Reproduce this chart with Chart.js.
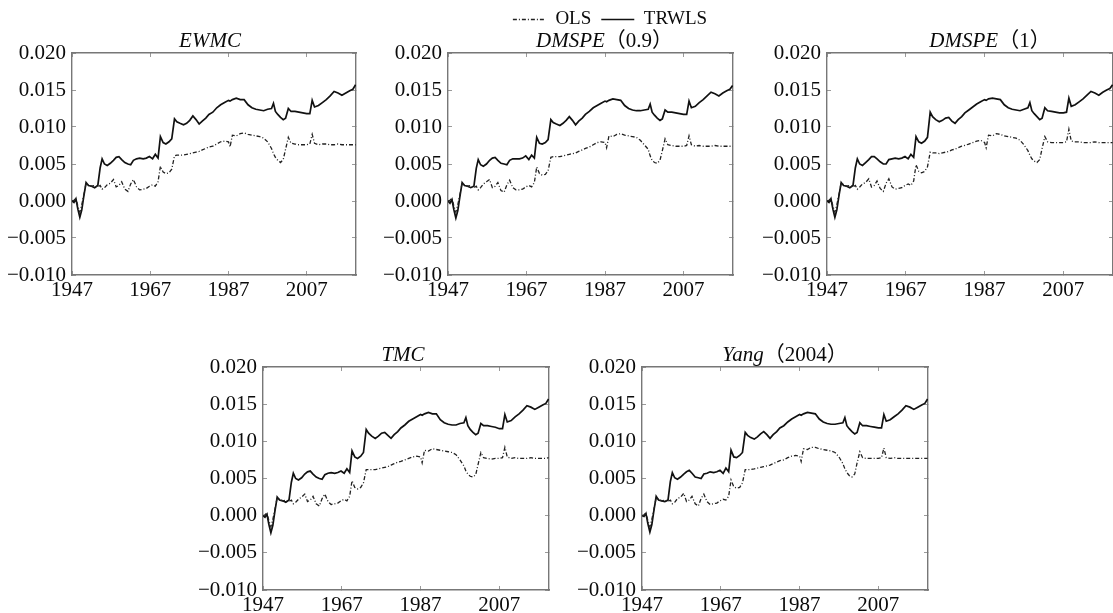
<!DOCTYPE html>
<html><head><meta charset="utf-8">
<script src="https://cdn.jsdelivr.net/npm/chart.js@4.4.1/dist/chart.umd.min.js"></script>
<style>
html,body{margin:0;padding:0;background:#fff;width:1113px;height:613px;overflow:hidden;position:relative}
canvas{position:absolute;display:block}
</style></head><body>
<canvas id="c1"></canvas><canvas id="c2"></canvas><canvas id="c3"></canvas><canvas id="c4"></canvas><canvas id="c5"></canvas>
<script>
// ---------------- data ----------------
const years = [
 1947.0,1947.5,1948.0,1948.5,1949.0,1949.5,1950.0,1950.6,1951.2,1952.0,
 1952.8,1953.6,1954.2,1954.7,1955.3,1956.0,1956.8,1957.6,1958.3,1959.0,
 1959.7,1960.5,1961.3,1962.0,1962.7,1963.5,1964.3,1965.2,1966.0,1966.8,
 1967.6,1968.3,1969.0,1969.6,1970.3,1971.0,1971.8,1972.5,1973.2,1973.8,
 1974.6,1975.5,1976.3,1977.1,1977.9,1978.7,1979.5,1980.3,1981.2,1982.0,
 1983.0,1984.0,1985.0,1986.0,1987.0,1987.4,1988.0,1989.0,1990.0,1991.0,
 1992.0,1993.0,1994.0,1995.0,1996.0,1997.0,1998.0,1998.5,1999.0,1999.6,
 2000.3,2001.0,2001.6,2002.3,2003.0,2004.0,2005.0,2006.0,2007.0,2007.8,
 2008.4,2009.0,2010.0,2011.0,2012.0,2013.0,2014.0,2015.0,2016.0,2017.0,
 2018.0,2018.8,2019.5];
const xTicks = [1947, 1967, 1987, 2007];
const xTickLabels = ['1947', '1967', '1987', '2007'];
const yTicks = [-0.010, -0.005, 0.000, 0.005, 0.010, 0.015, 0.020];
const yTickLabels = ['\u22120.010', '\u22120.005', '0.000', '0.005', '0.010', '0.015', '0.020'];
const seriesNames = ['OLS', 'TRWLS'];

const trwlsEWMC = [
 0.0000,-0.0002,0.0003,-0.0011,-0.0022,-0.0012,0.0006,0.0025,0.0021,0.0020,
 0.0018,0.0021,0.0045,0.0057,0.0050,0.0048,0.0051,0.0055,0.0059,0.0060,
 0.0056,0.0052,0.0050,0.0049,0.0055,0.0057,0.0058,0.0057,0.0058,0.0060,
 0.0057,0.0063,0.0058,0.0087,0.0079,0.0077,0.0080,0.0084,0.0111,0.0107,
 0.0105,0.0103,0.0105,0.0109,0.0115,0.0110,0.0104,0.0108,0.0112,0.0117,
 0.0120,0.0126,0.0130,0.0133,0.0136,0.0135,0.0137,0.0139,0.0137,0.0137,
 0.0130,0.0126,0.0124,0.0123,0.0122,0.0124,0.0125,0.0132,0.0121,0.0117,
 0.0113,0.0110,0.0112,0.0125,0.0121,0.0121,0.0120,0.0119,0.0118,0.0118,
 0.0136,0.0127,0.0129,0.0133,0.0137,0.0142,0.0148,0.0146,0.0143,0.0146,
 0.0149,0.0151,0.0157];
const olsEWMC = [
 0.0000,0.0001,0.0004,-0.0007,-0.0015,-0.0005,0.0008,0.0024,0.0022,0.0020,
 0.0021,0.0019,0.0021,0.0016,0.0018,0.0022,0.0024,0.0029,0.0019,0.0021,
 0.0026,0.0016,0.0013,0.0023,0.0029,0.0019,0.0015,0.0016,0.0017,0.0020,
 0.0022,0.0020,0.0026,0.0047,0.0039,0.0037,0.0038,0.0043,0.0061,0.0062,
 0.0062,0.0062,0.0063,0.0064,0.0065,0.0066,0.0067,0.0069,0.0071,0.0073,
 0.0074,0.0077,0.0080,0.0081,0.0080,0.0073,0.0089,0.0088,0.0091,0.0092,
 0.0090,0.0089,0.0088,0.0087,0.0085,0.0080,0.0071,0.0064,0.0059,0.0055,
 0.0052,0.0056,0.0070,0.0086,0.0078,0.0077,0.0076,0.0076,0.0076,0.0077,
 0.0090,0.0078,0.0076,0.0077,0.0077,0.0076,0.0076,0.0077,0.0076,0.0076,
 0.0076,0.0076,0.0076];

const trwlsDMSPE09 = [
 0.0000,-0.0003,0.0002,-0.0012,-0.0023,-0.0013,0.0005,0.0025,0.0021,0.0020,
 0.0018,0.0020,0.0044,0.0056,0.0049,0.0047,0.0050,0.0055,0.0058,0.0059,
 0.0055,0.0051,0.0050,0.0049,0.0055,0.0057,0.0057,0.0057,0.0058,0.0061,
 0.0056,0.0062,0.0058,0.0086,0.0078,0.0077,0.0079,0.0083,0.0110,0.0106,
 0.0104,0.0102,0.0105,0.0109,0.0114,0.0109,0.0103,0.0108,0.0112,0.0117,
 0.0121,0.0126,0.0129,0.0132,0.0135,0.0134,0.0136,0.0138,0.0137,0.0136,
 0.0129,0.0125,0.0123,0.0122,0.0122,0.0123,0.0124,0.0131,0.0120,0.0116,
 0.0112,0.0109,0.0111,0.0123,0.0120,0.0120,0.0119,0.0118,0.0117,0.0117,
 0.0135,0.0126,0.0128,0.0133,0.0137,0.0142,0.0147,0.0145,0.0142,0.0146,
 0.0149,0.0151,0.0156];
const olsDMSPE09 = [
 0.0000,0.0001,0.0004,-0.0007,-0.0015,-0.0005,0.0008,0.0024,0.0022,0.0020,
 0.0021,0.0018,0.0020,0.0015,0.0018,0.0023,0.0026,0.0029,0.0018,0.0020,
 0.0025,0.0014,0.0012,0.0022,0.0028,0.0018,0.0015,0.0015,0.0016,0.0019,
 0.0021,0.0019,0.0025,0.0046,0.0037,0.0035,0.0036,0.0041,0.0059,0.0060,
 0.0060,0.0060,0.0061,0.0062,0.0063,0.0064,0.0065,0.0067,0.0069,0.0071,
 0.0073,0.0076,0.0079,0.0080,0.0079,0.0072,0.0088,0.0087,0.0090,0.0091,
 0.0089,0.0088,0.0087,0.0086,0.0082,0.0076,0.0070,0.0061,0.0055,0.0052,
 0.0051,0.0055,0.0068,0.0084,0.0076,0.0075,0.0074,0.0074,0.0074,0.0075,
 0.0088,0.0076,0.0074,0.0075,0.0074,0.0074,0.0074,0.0075,0.0074,0.0074,
 0.0074,0.0074,0.0074];

const trwlsDMSPE1 = [
 0.0000,-0.0002,0.0003,-0.0011,-0.0022,-0.0012,0.0006,0.0025,0.0021,0.0020,
 0.0018,0.0021,0.0045,0.0057,0.0050,0.0048,0.0052,0.0056,0.0060,0.0060,
 0.0057,0.0053,0.0050,0.0050,0.0056,0.0057,0.0058,0.0057,0.0058,0.0060,
 0.0057,0.0063,0.0059,0.0087,0.0080,0.0078,0.0081,0.0086,0.0120,0.0114,
 0.0110,0.0107,0.0109,0.0112,0.0113,0.0108,0.0105,0.0110,0.0114,0.0119,
 0.0123,0.0127,0.0131,0.0134,0.0137,0.0136,0.0138,0.0139,0.0138,0.0137,
 0.0130,0.0126,0.0124,0.0123,0.0122,0.0124,0.0126,0.0133,0.0122,0.0118,
 0.0114,0.0110,0.0112,0.0126,0.0122,0.0121,0.0120,0.0119,0.0119,0.0120,
 0.0139,0.0128,0.0130,0.0134,0.0138,0.0143,0.0148,0.0146,0.0143,0.0147,
 0.0150,0.0152,0.0157];
const olsDMSPE1 = [
 0.0000,0.0001,0.0004,-0.0007,-0.0015,-0.0005,0.0008,0.0024,0.0022,0.0020,
 0.0021,0.0019,0.0021,0.0016,0.0019,0.0023,0.0025,0.0030,0.0019,0.0021,
 0.0027,0.0017,0.0013,0.0024,0.0030,0.0019,0.0016,0.0017,0.0018,0.0021,
 0.0023,0.0021,0.0027,0.0049,0.0040,0.0038,0.0040,0.0046,0.0066,0.0065,
 0.0065,0.0064,0.0065,0.0066,0.0067,0.0069,0.0070,0.0072,0.0074,0.0075,
 0.0077,0.0079,0.0081,0.0082,0.0079,0.0072,0.0089,0.0088,0.0091,0.0090,
 0.0088,0.0087,0.0086,0.0085,0.0082,0.0076,0.0068,0.0062,0.0057,0.0054,
 0.0052,0.0056,0.0071,0.0087,0.0080,0.0079,0.0079,0.0079,0.0079,0.0080,
 0.0097,0.0081,0.0080,0.0080,0.0079,0.0079,0.0079,0.0080,0.0079,0.0079,
 0.0079,0.0079,0.0079];

const trwlsTMC = [
 0.0000,-0.0002,0.0002,-0.0012,-0.0023,-0.0013,0.0005,0.0025,0.0021,0.0020,
 0.0018,0.0021,0.0045,0.0057,0.0050,0.0048,0.0051,0.0056,0.0059,0.0060,
 0.0056,0.0052,0.0050,0.0049,0.0055,0.0057,0.0058,0.0057,0.0058,0.0060,
 0.0057,0.0063,0.0058,0.0087,0.0079,0.0077,0.0080,0.0085,0.0116,0.0111,
 0.0107,0.0104,0.0107,0.0111,0.0112,0.0108,0.0104,0.0109,0.0113,0.0118,
 0.0122,0.0127,0.0130,0.0133,0.0136,0.0135,0.0137,0.0139,0.0137,0.0137,
 0.0129,0.0125,0.0123,0.0122,0.0122,0.0124,0.0125,0.0132,0.0121,0.0116,
 0.0112,0.0109,0.0111,0.0124,0.0121,0.0121,0.0120,0.0119,0.0117,0.0117,
 0.0136,0.0126,0.0128,0.0133,0.0137,0.0142,0.0148,0.0146,0.0143,0.0146,
 0.0149,0.0151,0.0157];
const olsTMC = [
 0.0000,0.0001,0.0004,-0.0007,-0.0015,-0.0005,0.0008,0.0024,0.0022,0.0020,
 0.0021,0.0019,0.0021,0.0016,0.0018,0.0022,0.0025,0.0029,0.0019,0.0021,
 0.0026,0.0016,0.0013,0.0023,0.0029,0.0019,0.0015,0.0016,0.0017,0.0020,
 0.0022,0.0020,0.0026,0.0047,0.0038,0.0036,0.0038,0.0044,0.0062,0.0062,
 0.0062,0.0062,0.0063,0.0064,0.0065,0.0066,0.0068,0.0070,0.0072,0.0073,
 0.0075,0.0077,0.0079,0.0080,0.0079,0.0071,0.0088,0.0087,0.0090,0.0089,
 0.0088,0.0087,0.0086,0.0085,0.0082,0.0075,0.0067,0.0060,0.0056,0.0053,
 0.0052,0.0055,0.0069,0.0085,0.0078,0.0077,0.0076,0.0077,0.0077,0.0078,
 0.0092,0.0079,0.0077,0.0078,0.0077,0.0077,0.0077,0.0078,0.0077,0.0077,
 0.0077,0.0077,0.0078];

const trwlsYang = [
 0.0000,-0.0001,0.0003,-0.0011,-0.0022,-0.0012,0.0006,0.0026,0.0021,0.0020,
 0.0019,0.0021,0.0046,0.0058,0.0051,0.0049,0.0052,0.0056,0.0059,0.0061,
 0.0057,0.0052,0.0051,0.0050,0.0056,0.0057,0.0059,0.0058,0.0059,0.0061,
 0.0057,0.0064,0.0059,0.0088,0.0079,0.0078,0.0081,0.0085,0.0112,0.0108,
 0.0105,0.0103,0.0106,0.0110,0.0113,0.0109,0.0104,0.0109,0.0113,0.0118,
 0.0121,0.0126,0.0130,0.0133,0.0136,0.0135,0.0137,0.0139,0.0138,0.0137,
 0.0130,0.0126,0.0124,0.0123,0.0123,0.0124,0.0125,0.0132,0.0121,0.0117,
 0.0113,0.0110,0.0112,0.0125,0.0121,0.0121,0.0120,0.0119,0.0118,0.0118,
 0.0136,0.0127,0.0129,0.0133,0.0137,0.0142,0.0148,0.0146,0.0143,0.0146,
 0.0149,0.0151,0.0157];
const olsYang = [
 0.0000,0.0001,0.0004,-0.0007,-0.0015,-0.0005,0.0008,0.0024,0.0022,0.0020,
 0.0021,0.0019,0.0021,0.0016,0.0018,0.0023,0.0025,0.0030,0.0019,0.0021,
 0.0026,0.0016,0.0013,0.0023,0.0029,0.0019,0.0015,0.0016,0.0017,0.0020,
 0.0022,0.0021,0.0026,0.0048,0.0039,0.0037,0.0038,0.0044,0.0062,0.0062,
 0.0062,0.0063,0.0064,0.0065,0.0066,0.0067,0.0068,0.0070,0.0072,0.0074,
 0.0075,0.0078,0.0080,0.0081,0.0080,0.0073,0.0090,0.0089,0.0092,0.0092,
 0.0090,0.0089,0.0088,0.0087,0.0085,0.0079,0.0070,0.0063,0.0058,0.0054,
 0.0052,0.0056,0.0071,0.0086,0.0078,0.0077,0.0077,0.0077,0.0077,0.0078,
 0.0091,0.0078,0.0077,0.0078,0.0077,0.0077,0.0077,0.0077,0.0077,0.0077,
 0.0077,0.0077,0.0077];

// ---------------- layout / style ----------------
const SERIF = '"Liberation Serif", "Times New Roman", "Noto Sans CJK SC", serif';
const panels = [
  {id:'c1', title:[['EWMC',true]], tdx:-4, ols:olsEWMC, trwls:trwlsEWMC,
   left:0, top:0, w:364, h:305, pad:{top:53,left:0,right:8,bottom:0}, legend:false, x2h:0, y2w:0},
  {id:'c2', title:[['DMSPE',true],['\uFF080.9\uFF09',false]], tdx:14, ols:olsDMSPE09, trwls:trwlsDMSPE09,
   left:376, top:0, w:468, h:305, pad:{top:0,left:0,right:0,bottom:0}, legend:true, x2h:14, y2w:111},
  {id:'c3', title:[['DMSPE',true],['\uFF081\uFF09',false]], tdx:20, ols:olsDMSPE1, trwls:trwlsDMSPE1,
   left:755, top:0, w:366, h:305, pad:{top:53,left:0,right:8,bottom:0}, legend:false, x2h:0, y2w:0},
  {id:'c4', title:[['TMC',true]], tdx:-3, ols:olsTMC, trwls:trwlsTMC,
   left:191, top:314, w:366, h:306, pad:{top:53,left:0,right:8,bottom:0}, legend:false, x2h:0, y2w:0},
  {id:'c5', title:[['Yang',true],['\uFF082004\uFF09',false]], tdx:0, ols:olsYang, trwls:trwlsYang,
   left:570, top:314, w:366, h:306, pad:{top:53,left:0,right:8,bottom:0}, legend:false, x2h:0, y2w:0}
];

const titlePlugin = {
  id: 'panelTitle',
  afterDraw(chart, args, opts) {
    const parts = opts.parts; if (!parts) return;
    const ctx = chart.ctx, a = chart.chartArea;
    ctx.save();
    const fonts = parts.map(p => (p[1] ? 'italic ' : '') + '21px ' + SERIF);
    const widths = parts.map((p, i) => { ctx.font = fonts[i]; return ctx.measureText(p[0]).width; });
    const total = widths.reduce((s, v) => s + v, 0);
    let x = (a.left + a.right) / 2 - total / 2 + (opts.dx || 0);
    const y = a.top - 12;
    ctx.textBaseline = 'middle'; ctx.textAlign = 'left'; ctx.fillStyle = '#0a0a0a';
    parts.forEach((p, i) => { ctx.font = fonts[i]; ctx.fillText(p[0], x, y); x += widths[i]; });
    ctx.restore();
  }
};

const XMIN = 1947, XMAX = 2019.6, YMIN = -0.010, YMAX = 0.020;
const gridOpt = {display:true, drawOnChartArea:false, drawTicks:true, tickLength:-4, tickColor:'#9a9a9a', lineWidth:1};
const borderOpt = {display:true, color:'#777', width:1.4};
const tickFont = {family: SERIF, size: 21};

function legendLabels(chart) {
  const items = Chart.defaults.plugins.legend.labels.generateLabels(chart);
  items.forEach(it => {
    const ds = chart.data.datasets[it.datasetIndex];
    it.lineDash = ds.borderDash || [];
    it.lineWidth = ds.borderWidth;
    it.strokeStyle = ds.borderColor;
  });
  return items;
}

panels.forEach(p => {
  const cv = document.getElementById(p.id);
  cv.width = p.w; cv.height = p.h;
  cv.style.left = p.left + 'px'; cv.style.top = p.top + 'px';
  cv.style.width = p.w + 'px'; cv.style.height = p.h + 'px';
  new Chart(cv, {
    type: 'line',
    data: {
      datasets: [
        {label: seriesNames[0], data: years.map((x, i) => ({x: x, y: p.ols[i]})),
         borderColor: '#222', backgroundColor: '#222', borderWidth: 1.3, borderDash: [4, 2, 1, 2],
         pointRadius: 0, tension: 0},
        {label: seriesNames[1], data: years.map((x, i) => ({x: x, y: p.trwls[i]})),
         borderColor: '#111', backgroundColor: '#111', borderWidth: 1.7,
         pointRadius: 0, tension: 0}
      ]
    },
    options: {
      responsive: false, animation: false, devicePixelRatio: 1,
      layout: {padding: p.pad},
      plugins: {
        legend: {display: p.legend, position: 'top', fullSize: true,
          labels: {usePointStyle: true, pointStyle: 'line', pointStyleWidth: 33, padding: 10,
                   color: '#0a0a0a', font: {family: SERIF, size: 19}, generateLabels: legendLabels}},
        title: {display: false},
        tooltip: {enabled: false},
        panelTitle: {parts: p.title, dx: p.tdx}
      },
      scales: {
        x: {type: 'linear', position: 'bottom', min: XMIN, max: XMAX,
            afterBuildTicks: s => { s.ticks = xTicks.map(v => ({value: v})); },
            afterFit: s => { s.height = 30; },
            ticks: {padding: 7, color: '#0a0a0a', font: tickFont, maxRotation: 0, autoSkip: false,
                    callback: (v, i) => xTickLabels[i]},
            grid: gridOpt, border: borderOpt},
        x2: {type: 'linear', position: 'top', min: XMIN, max: XMAX,
            afterBuildTicks: s => { s.ticks = xTicks.map(v => ({value: v})); },
            afterFit: s => { s.height = p.x2h; },
            ticks: {display: false}, grid: gridOpt, border: borderOpt},
        y: {type: 'linear', position: 'left', min: YMIN, max: YMAX,
            afterBuildTicks: s => { s.ticks = yTicks.map(v => ({value: v})); },
            afterFit: s => { s.width = 72; },
            ticks: {padding: 10, color: '#0a0a0a', font: tickFont, autoSkip: false,
                    callback: (v, i) => yTickLabels[i]},
            grid: gridOpt, border: borderOpt},
        y2: {type: 'linear', position: 'right', min: YMIN, max: YMAX,
            afterBuildTicks: s => { s.ticks = yTicks.map(v => ({value: v})); },
            afterFit: s => { s.width = p.y2w; },
            ticks: {display: false}, grid: gridOpt, border: borderOpt}
      }
    },
    plugins: [titlePlugin]
  });
});
</script>
</body></html>
